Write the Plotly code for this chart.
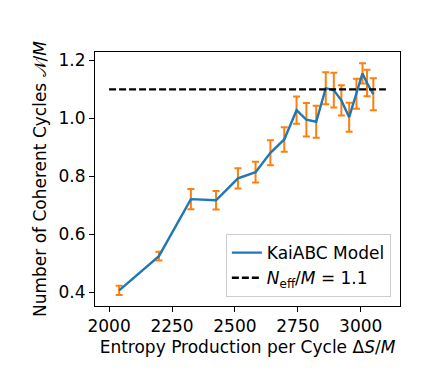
import plotly.graph_objects as go

#%% data
entropy = [2040, 2198, 2325, 2425, 2512, 2582, 2641, 2696, 2745, 2784,
           2823, 2861, 2893, 2923, 2954, 2983, 3007, 3025, 3050]
n_coherent = [0.406, 0.524, 0.721, 0.717, 0.793, 0.814, 0.881, 0.927, 1.028, 0.995,
              0.988, 1.104, 1.097, 1.062, 1.004, 1.085, 1.155, 1.122, 1.083]
n_err = [0.016, 0.015, 0.035, 0.032, 0.035, 0.036, 0.043, 0.042, 0.047, 0.058,
         0.055, 0.055, 0.06, 0.052, 0.05, 0.052, 0.035, 0.046, 0.055]

neff_x = [2000, 3100]
neff_y = [1.1, 1.1]

blue = "#1f77b4"
orange = "#ff7f0e"

#%% figure
fig = go.Figure()

# error bars (drawn first so the line sits on top)
fig.add_trace(go.Scatter(x = entropy, y = n_coherent, mode = "markers",
                         marker = dict(size = 1, color = "rgba(0,0,0,0)"),
                         error_y = dict(type = "data", array = n_err, visible = True,
                                        color = orange, thickness = 2, width = 3.5),
                         showlegend = False, hoverinfo = "skip"))

fig.add_trace(go.Scatter(x = entropy, y = n_coherent, mode = "lines",
                         line = dict(color = blue, width = 2.4),
                         name = "KaiABC Model"))

fig.add_trace(go.Scatter(x = neff_x, y = neff_y, mode = "lines",
                         line = dict(color = "black", width = 2.4, dash = "7px,3px"),
                         name = "<i>N</i><sub>eff</sub>/<i>M</i> = 1.1"))

axis_common = dict(showgrid = False, zeroline = False, showline = True, linecolor = "black",
                   linewidth = 1, mirror = True, ticks = "outside", ticklen = 5,
                   tickcolor = "black", tickfont = dict(size = 17, color = "black"),
                   automargin = False)

fig.update_xaxes(range = [1944, 3156], tickvals = [2000, 2250, 2500, 2750, 3000],
                 title_text = "Entropy Production per Cycle Δ<i>S</i>/<i>M</i>",
                 title_font = dict(size = 17, color = "black"), title_standoff = 5,
                 **axis_common)
fig.update_yaxes(range = [0.352, 1.229], tickvals = [0.4, 0.6, 0.8, 1.0, 1.2],
                 tickformat = ".1f",
                 title_text = "Number of Coherent Cycles 𝒩/<i>M</i>",
                 title_font = dict(size = 17, color = "black"), title_standoff = 7,
                 **axis_common)

fig.update_layout(width = 436, height = 374,
                  margin = dict(l = 87, r = 44, t = 44, b = 76),
                  plot_bgcolor = "white", paper_bgcolor = "white",
                  font = dict(family = "DejaVu Sans", size = 17, color = "black"),
                  showlegend = True,
                  legend = dict(xanchor = "right", x = 0.97, yanchor = "bottom", y = 0.035,
                                bgcolor = "rgba(255,255,255,0.8)", bordercolor = "#cccccc",
                                borderwidth = 1, font = dict(size = 17),
                                itemwidth = 30, tracegroupgap = 0))

fig.write_html("out.html")
